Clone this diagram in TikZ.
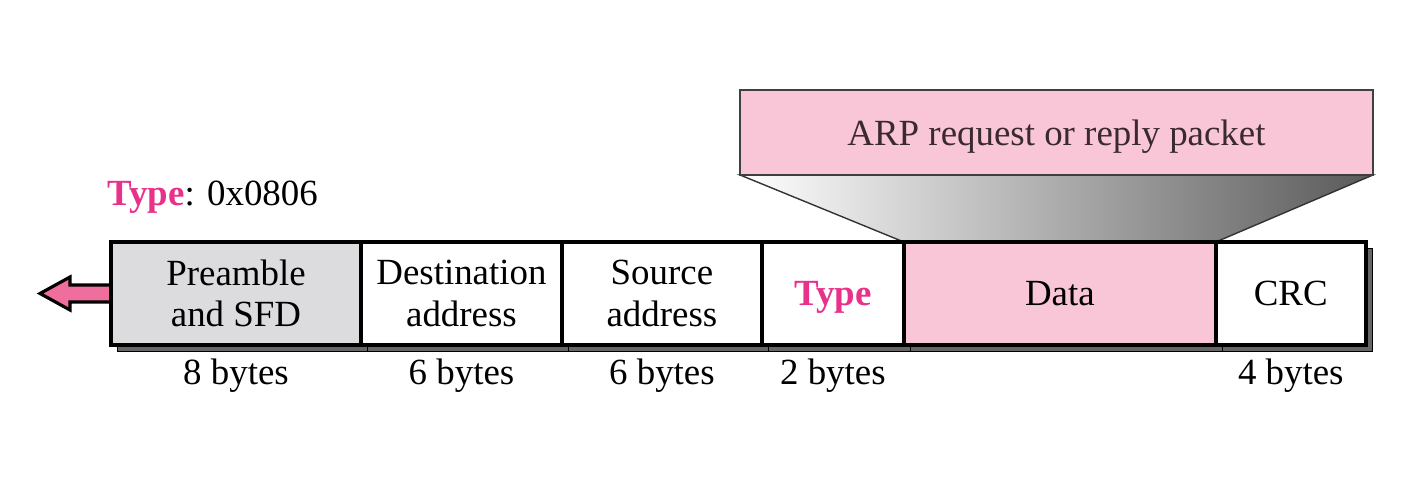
\documentclass[tikz,border=0pt]{standalone}
\usepackage{fontspec}
\setmainfont{Liberation Serif}
\usetikzlibrary{positioning,calc,shadows,backgrounds}

\definecolor{arppink}{HTML}{F9C6D8}
\definecolor{typepink}{HTML}{E8318A}
\definecolor{arrowpink}{HTML}{F06E9E}
\definecolor{preamblegray}{HTML}{DCDCDE}
\definecolor{arptext}{HTML}{3A2A30}

\tikzset{
    every node/.style={font=\fontsize{21}{23.5}\selectfont},
    field/.style={draw, line width=2.2pt, rectangle, outer sep=0pt, inner sep=0pt,
        minimum height=2.06cm, align=center,
        drop shadow={shadow xshift=0.13cm, shadow yshift=-0.13cm, fill=black!60,
            draw=black, line width=0.6pt, opacity=1}},
    bytes/.style={inner sep=0pt},
}

\begin{document}
\begin{tikzpicture}[x=0.02cm, y=-0.02cm]
    \useasboundingbox (0,0) rectangle (1407,483);

    \node[field, fill=preamblegray, minimum width=5cm] (pre) at (236,293.5) {Preamble\\and SFD};
    \node[field, fill=white, minimum width=4.02cm, right=0pt of pre] (dst) {Destination\\address};
    \node[field, fill=white, minimum width=4cm, right=0pt of dst] (src) {Source\\address};
    \node[field, fill=white, minimum width=2.84cm, right=0pt of src, text depth=0pt] (type) {\textcolor{typepink}{\textbf{Type}}};
    \node[field, fill=arppink, minimum width=6.24cm, right=0pt of type] (data) {Data};
    \node[field, fill=white, minimum width=3cm, right=0pt of data] (crc) {CRC};

    \node[bytes, below=0.28cm of pre] (prebytes) {8 bytes};
    \node[bytes, below=0.28cm of dst] (dstbytes) {6 bytes};
    \node[bytes, below=0.28cm of src] (srcbytes) {6 bytes};
    \node[bytes, below=0.28cm of type] (typebytes) {2 bytes};
    \node[bytes, below=0.28cm of crc] (crcbytes) {4 bytes};

    \node[anchor=west, inner sep=0pt] (typelabel) at (107,197) {\textcolor{typepink}{\textbf{Type}}: 0x0806};

    \node[draw=black!75, fill=arppink, line width=1pt, outer sep=0pt, text=arptext,
        minimum width=12.66cm, minimum height=1.7cm, text depth=0pt] (arp) at (1056.5,132.5) {ARP request or reply packet};

    \begin{scope}[on background layer]
        \shadedraw[left color=white, right color=black!65, draw=black!80, line width=0.8pt]
            (arp.south west) -- (arp.south east) -- (data.north east) -- (data.north west) -- cycle;
        \draw[fill=arrowpink, line width=1.8pt, line join=miter]
            ($(pre.west)+(0,-8.5)$) -- ++(-41,0) -- ++(0,-8) -- ++(-30,16.5)
            -- ++(30,16.5) -- ++(0,-8) -- ($(pre.west)+(0,8.5)$) -- cycle;
    \end{scope}

\end{tikzpicture}
\end{document}
